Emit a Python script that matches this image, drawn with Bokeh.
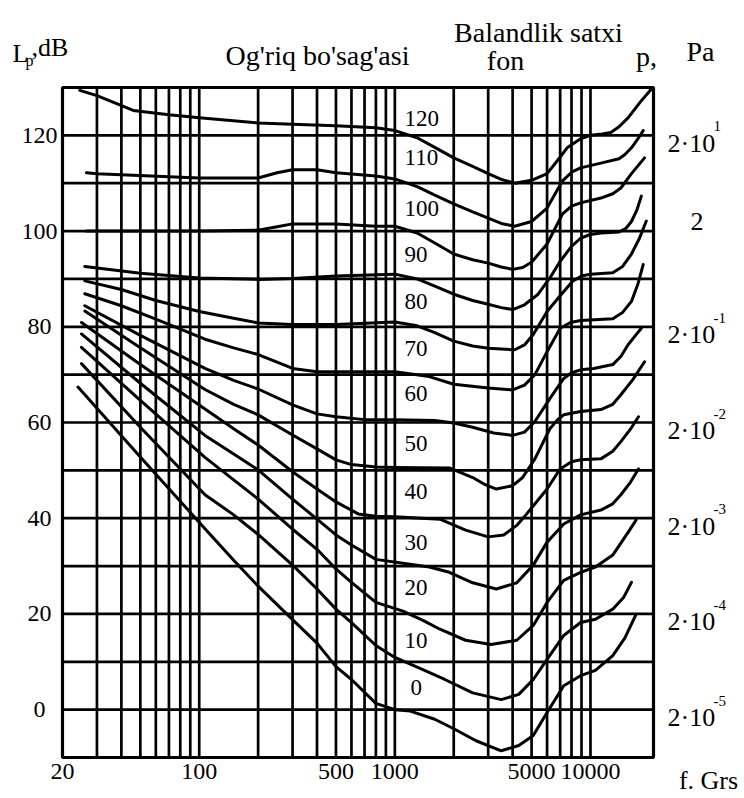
import math
from bokeh.plotting import figure
from bokeh.models import Range1d
from bokeh.embed import file_html
from bokeh.resources import INLINE
from bokeh.core.properties import value

FONT = "'Liberation Serif', 'Times New Roman', 'DejaVu Serif', serif"

# ---------------- data ----------------
freq_ticks = [20, 100, 500, 1000, 5000, 10000]
level_ticks = [0, 20, 40, 60, 80, 100, 120]
grid_freqs = [30, 40, 50, 60, 70, 80, 90, 100, 200, 300, 400, 500, 600, 700, 800, 900,
              1000, 2000, 3000, 4000, 5000, 6000, 7000, 8000, 9000, 10000]
grid_levels = [0, 10, 20, 30, 40, 50, 60, 70, 80, 90, 100, 110, 120]

pressure_levels = [120, 100, 80, 60, 40, 20, 0]
pressure_base = ["2·10", "2", "2·10", "2·10", "2·10", "2·10", "2·10"]
pressure_exp = ["1", "", "-1", "-2", "-3", "-4", "-5"]

phons = [120, 110, 100, 90, 80, 70, 60, 50, 40, 30, 20, 10, 0]
phon_label_levels = [123.5, 115.3, 104.8, 95.2, 85.3, 75.5, 66.0, 55.6, 45.5, 35.0, 25.6, 14.5, 4.6]

f_120 = [24.5, 30, 46, 70, 100, 200, 300, 500, 800, 1000, 1300, 1600, 2000, 2500, 3000, 3500, 4100, 5000, 6000, 6800, 7600, 8900, 10000, 11500, 12700, 14000, 15600, 18000, 20800]
L_120 = [129.4, 128.3, 125.2, 124.3, 123.7, 122.6, 122.3, 122.0, 121.6, 121.0, 119.5, 117.5, 115.3, 113.5, 112.0, 110.8, 110.0, 110.6, 112.0, 114.8, 117.4, 119.3, 120.0, 120.3, 120.6, 121.8, 123.7, 127.0, 130.0]

f_110 = [26.5, 30, 100, 200, 250, 300, 400, 500, 800, 1000, 1300, 1600, 2000, 2500, 3000, 3500, 4100, 5000, 6000, 6600, 7200, 8000, 8900, 11300, 14000, 15000, 16200, 17500, 18600]
L_110 = [112.2, 112.0, 111.1, 111.1, 112.2, 112.8, 112.8, 112.2, 111.5, 110.9, 109.3, 107.5, 105.7, 104.0, 102.7, 101.6, 101.0, 102.0, 104.8, 107.8, 110.5, 112.3, 113.2, 114.2, 115.1, 116.0, 117.4, 119.3, 121.0]

f_100 = [26.5, 100, 200, 250, 300, 500, 800, 1000, 1300, 1600, 2000, 2500, 3000, 3500, 4000, 4500, 5000, 6000, 6600, 7200, 8000, 8900, 11300, 13000, 14300, 16200, 18900]
L_100 = [100.0, 100.0, 100.2, 100.9, 101.5, 101.5, 101.0, 101.0, 99.6, 97.5, 95.2, 94.0, 93.3, 92.5, 92.0, 92.4, 93.5, 97.3, 100.6, 103.6, 105.2, 105.9, 106.9, 107.8, 109.0, 112.0, 115.3]

f_90 = [26, 50, 100, 200, 300, 500, 1000, 1300, 1600, 2000, 2500, 3000, 3500, 4000, 4600, 5400, 6200, 7000, 8000, 8900, 10000, 11300, 14000, 15200, 16200, 17300, 18200]
L_90 = [92.6, 91.2, 90.2, 89.9, 90.1, 90.6, 91.0, 90.0, 88.5, 86.8, 85.5, 84.7, 84.0, 83.6, 84.6, 86.8, 90.2, 93.7, 96.8, 98.5, 99.3, 99.6, 99.8, 100.6, 102.0, 104.5, 107.3]

f_80 = [26, 40, 60, 100, 150, 200, 300, 500, 1000, 1300, 1600, 2000, 2500, 3000, 4100, 4600, 5100, 6000, 7000, 8100, 9000, 10000, 13000, 14600, 16200, 17800, 19300]
L_80 = [89.6, 87.8, 85.5, 83.2, 81.8, 80.8, 80.5, 80.5, 81.0, 80.2, 78.8, 77.0, 76.0, 75.5, 75.2, 76.2, 78.4, 83.2, 86.5, 89.5, 90.6, 91.0, 91.3, 92.6, 95.2, 98.5, 102.1]

f_70 = [26, 40, 60, 107, 150, 200, 250, 300, 400, 1000, 1500, 2000, 3000, 4000, 4600, 5200, 6000, 7000, 7900, 8900, 13000, 14600, 16200, 17500, 18600]
L_70 = [86.9, 84.4, 81.6, 77.4, 75.6, 74.2, 72.6, 71.3, 70.6, 70.6, 69.6, 68.0, 67.2, 66.8, 67.8, 70.0, 74.8, 79.7, 80.9, 81.3, 81.7, 83.0, 85.3, 89.0, 93.0]

f_60 = [26, 50, 107, 150, 200, 300, 400, 500, 700, 1000, 1600, 2000, 2500, 3200, 4000, 4600, 5200, 6200, 7300, 8000, 8900, 10400, 13000, 14300, 15600, 17000, 18200]
L_60 = [84.4, 78.2, 71.3, 68.8, 67.0, 63.7, 61.8, 61.2, 60.6, 60.6, 60.4, 59.9, 59.0, 57.8, 57.3, 58.0, 60.2, 65.0, 69.2, 70.4, 71.0, 71.3, 72.1, 73.8, 76.3, 78.2, 79.7]

f_50 = [26, 50, 107, 150, 200, 300, 400, 500, 600, 800, 1000, 1900, 2500, 2900, 3300, 4000, 4500, 5200, 6200, 6800, 7300, 8900, 11300, 13000, 14300, 16500, 18900]
L_50 = [83.3, 75.6, 66.9, 63.8, 61.6, 57.4, 54.5, 52.2, 51.2, 50.7, 50.6, 50.5, 48.5, 47.0, 46.1, 46.8, 48.5, 52.4, 58.7, 60.6, 61.6, 62.3, 62.7, 63.8, 65.8, 69.0, 72.7]

f_40 = [25, 50, 107, 150, 200, 300, 400, 500, 650, 800, 1000, 1700, 2300, 3000, 3600, 4200, 4700, 6000, 7000, 8000, 8900, 11300, 13000, 14300, 16000, 17600]
L_40 = [80.9, 72.1, 62.8, 58.7, 55.3, 49.7, 46.1, 43.4, 40.9, 40.4, 40.3, 39.8, 37.5, 36.1, 36.5, 38.5, 40.8, 46.1, 50.3, 51.8, 52.2, 52.4, 54.0, 56.0, 58.6, 61.2]

f_30 = [25, 50, 107, 150, 200, 300, 400, 500, 600, 800, 1100, 1500, 1900, 2500, 3300, 4200, 5100, 6000, 7300, 8900, 11300, 13000, 14300, 16000, 17600]
L_30 = [78.5, 68.2, 57.3, 53.4, 50.1, 44.0, 39.8, 36.5, 34.4, 31.4, 30.6, 29.8, 28.7, 26.5, 25.2, 26.5, 30.2, 35.0, 38.8, 40.7, 41.7, 43.0, 44.9, 47.5, 50.3]

f_20 = [25, 50, 107, 150, 200, 300, 400, 500, 600, 800, 1100, 1400, 1700, 2300, 3100, 4200, 5100, 6000, 7300, 8900, 10600, 13000, 15600, 17100]
L_20 = [75.7, 64.6, 52.7, 48.0, 44.0, 37.7, 33.5, 29.4, 26.6, 22.4, 20.6, 18.6, 16.8, 14.5, 13.6, 14.5, 17.6, 22.4, 27.0, 28.7, 29.8, 32.3, 37.1, 39.6]

f_10 = [25, 50, 107, 150, 200, 300, 400, 500, 600, 800, 1000, 1400, 1800, 2500, 3500, 4300, 5100, 6000, 7300, 8900, 10600, 13000, 14800, 16200]
L_10 = [72.3, 59.0, 44.9, 40.7, 36.6, 30.2, 25.2, 21.0, 18.2, 13.4, 10.9, 8.3, 6.3, 3.5, 2.1, 3.2, 6.3, 10.5, 15.5, 18.2, 18.9, 21.0, 23.5, 26.6]

f_0 = [24, 50, 107, 150, 200, 300, 400, 500, 600, 800, 1000, 1200, 1600, 2000, 2600, 3500, 4300, 5100, 6000, 7300, 8900, 10600, 13000, 15000, 17100]
L_0 = [67.4, 52.8, 37.8, 31.2, 25.8, 18.8, 13.9, 9.0, 6.3, 1.3, 0.0, -0.3, -2.0, -4.0, -6.5, -8.6, -7.5, -5.4, -0.6, 5.0, 7.1, 8.2, 11.3, 15.0, 19.9]

curves = [(f_120, L_120), (f_110, L_110), (f_100, L_100), (f_90, L_90), (f_80, L_80),
          (f_70, L_70), (f_60, L_60), (f_50, L_50), (f_40, L_40), (f_30, L_30),
          (f_20, L_20), (f_10, L_10), (f_0, L_0)]

# ---------------- geometry ----------------
W, H = 744, 798
X0, X1 = 20, 21000          # chart frame (data)
Y0, Y1 = -10, 130
FL, FR, FT, FB = 62, 653, 87, 757   # chart frame (pixels)

KX = math.log10(X1 / X0) / (FR - FL)   # decades per pixel
MY = (Y1 - Y0) / (FB - FT)             # dB per pixel


def fx(px):
    return X0 * 10 ** ((px - FL) * KX)


def fy(py):
    return Y1 - (py - FT) * MY


def py_of(level):
    return FT + (Y1 - level) / MY


p = figure(width=W, height=H, x_axis_type="log",
           x_range=Range1d(fx(0), fx(W)), y_range=Range1d(fy(H), fy(0)),
           output_backend="svg", toolbar_location=None,
           x_axis_location=None, y_axis_location=None,
           min_border=0, min_border_left=0, min_border_right=0,
           min_border_top=0, min_border_bottom=0)
p.background_fill_color = "white"
p.border_fill_color = "white"
p.outline_line_color = None
p.xgrid.visible = False
p.ygrid.visible = False

GRID_W = 2.7
# grid
p.segment(x0=grid_freqs, y0=[Y0] * len(grid_freqs), x1=grid_freqs, y1=[Y1] * len(grid_freqs),
          line_color="black", line_width=GRID_W)
p.segment(x0=[X0] * len(grid_levels), y0=grid_levels, x1=[X1] * len(grid_levels), y1=grid_levels,
          line_color="black", line_width=GRID_W)
# frame
p.quad(left=[X0], right=[X1], bottom=[Y0], top=[Y1], fill_color=None,
       line_color="black", line_width=3.2)

# contours
for f, L in curves:
    p.line(x=f, y=L, line_color="black", line_width=3, line_join="round", line_cap="round")


def txt(xs, ys, texts, size, align="left", baseline="middle"):
    p.text(x=xs, y=ys, text=texts, text_font=value(FONT), text_font_size=value(size),
           text_align=align, text_baseline=baseline, text_color="black")


# phon labels on the curves
txt([fx(404)] * (len(phons) - 1) + [fx(410)], phon_label_levels, [str(v) for v in phons], "23px")

# left tick labels
txt([fx(39)] * len(level_ticks), level_ticks, [str(v) for v in level_ticks], "24px", "center")
# bottom tick labels
txt(freq_ticks, [fy(771)] * len(freq_ticks), [str(v) for v in freq_ticks], "24px", "center")

# right-hand pressure scale
for lev, base, ex in zip(pressure_levels, pressure_base, pressure_exp):
    if ex:
        txt([fx(667)], [fy(py_of(lev) + 8)], [base], "26px")
        txt([fx(713)], [fy(py_of(lev) - 9)], [ex], "15px")
    else:
        txt([fx(690)], [fy(py_of(lev) - 10)], [base], "26px")

# captions
txt([fx(12)], [fy(53)], ["L"], "26px", "left", "alphabetic")
txt([fx(25)], [fy(60)], ["p"], "16px", "left", "alphabetic")
txt([fx(31)], [fy(47)], [",dB"], "26px", "left", "alphabetic")
txt([fx(317)], [fy(55)], ["Og'riq bo'sag'asi"], "28px", "center", "alphabetic")
txt([fx(538)], [fy(32)], ["Balandlik satxi"], "28px", "center", "alphabetic")
txt([fx(505)], [fy(60)], ["fon"], "28px", "center", "alphabetic")
txt([fx(646)], [fy(56)], ["p,"], "28px", "center", "alphabetic")
txt([fx(700)], [fy(51)], ["Pa"], "28px", "center", "alphabetic")
txt([fx(708)], [fy(780)], ["f. Grs"], "26px", "center", "alphabetic")

open("out.html", "w").write(file_html(p, INLINE))
